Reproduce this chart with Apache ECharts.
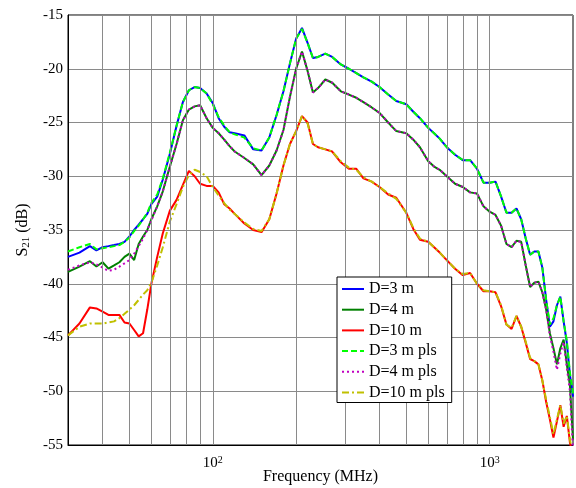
<!DOCTYPE html>
<html>
<head>
<meta charset="utf-8">
<script src="https://cdn.jsdelivr.net/npm/echarts@6/dist/echarts.min.js"></script>
<style>
  html, body { margin: 0; padding: 0; background: #fff; }
  #chart { width: 576px; height: 488px; }
</style>
</head>
<body>
<div id="chart"></div>
<script>
// frequency points (MHz)
const freq = [30,33,36,38,40,42,44,46,48,50,52,54,56,58,60,63,66,70,74,78,82,86,90,95,100,105,110,115,120,130,140,150,160,170,180,190,200,210,220,230,240,255,270,290,310,330,350,375,400,430,460,500,530,560,600,630,660,700,750,800,850,900,950,1000,1050,1100,1150,1200,1250,1300,1350,1400,1450,1500,1550,1600,1650,1700,1750,1800,1850,1900,1950,2000];

// S21 (dB)
const d3 = [-37.5,-37.1,-36.5,-36.9,-36.6,-36.5,-36.4,-36.3,-36.1,-35.6,
  -35.0,-34.5,-34.0,-33.5,-32.6,-31.9,-30.3,-27.9,-25.3,-23.1,
  -22.0,-21.7,-21.8,-22.3,-23.2,-24.6,-25.4,-25.9,-26.0,-26.2,
  -27.5,-27.6,-26.4,-24.3,-22.1,-19.5,-17.2,-16.2,-17.6,-19.0,
  -18.9,-18.6,-18.9,-19.6,-20.0,-20.4,-20.8,-21.2,-21.7,-22.4,
  -23.0,-23.3,-24.0,-24.6,-25.5,-26.0,-26.5,-27.3,-28.0,-28.5,
  -28.5,-29.3,-30.6,-30.6,-30.5,-31.9,-33.4,-33.4,-33.0,-34.0,
  -35.8,-37.3,-37.0,-37.0,-38.5,-41.5,-44.0,-43.5,-42.0,-41.2,
  -43.5,-45.5,-48.5,-50.5];
const d4 = [-38.9,-38.4,-37.9,-38.4,-38.0,-38.6,-38.3,-38.0,-37.5,-37.2,
  -37.8,-36.3,-35.6,-35.0,-34.0,-32.8,-31.4,-29.1,-27.0,-24.8,
  -23.8,-23.5,-23.4,-24.6,-25.5,-26.0,-26.6,-27.2,-27.7,-28.3,
  -28.9,-29.9,-29.0,-27.6,-25.7,-22.6,-20.0,-18.4,-20.2,-22.2,
  -21.8,-21.0,-21.3,-22.1,-22.4,-22.7,-23.1,-23.6,-24.1,-25.0,
  -25.8,-26.0,-26.6,-27.3,-28.6,-29.1,-29.4,-30.0,-30.7,-31.0,
  -31.5,-31.6,-32.8,-33.3,-33.6,-34.6,-36.3,-36.6,-36.0,-36.1,
  -38.3,-40.3,-39.9,-39.8,-40.8,-42.4,-44.6,-46.0,-47.5,-46.0,
  -45.2,-47.5,-49.5,-54.5];
const d10 = [-44.8,-43.7,-42.2,-42.3,-42.6,-42.9,-42.9,-42.9,-43.6,-43.7,
  -44.3,-44.9,-44.6,-42.4,-40.0,-37.5,-35.3,-33.2,-32.2,-30.8,
  -29.5,-30.0,-30.7,-30.9,-30.9,-31.5,-32.6,-33.0,-33.5,-34.4,
  -35.0,-35.2,-34.0,-31.6,-29.0,-27.0,-25.8,-24.4,-25.0,-27.0,
  -27.3,-27.5,-27.7,-28.7,-29.3,-29.3,-30.2,-30.5,-31.0,-31.7,
  -32.0,-33.4,-34.9,-35.9,-36.1,-36.6,-37.1,-37.8,-38.6,-39.2,
  -39.0,-40.0,-40.7,-40.7,-40.8,-42.1,-43.8,-44.2,-43.0,-44.0,
  -45.5,-47.0,-47.2,-47.5,-49.0,-51.0,-52.6,-54.3,-52.8,-51.3,
  -53.3,-52.3,-54.8,-56.0];
const d3pls = [-37.0,-36.6,-36.3,-36.8,-36.7,-36.6,-36.5,-36.4,-36.1,-35.7,
  -35.1,-34.6,-34.0,-33.4,-32.5,-31.7,-30.2,-27.8,-25.3,-23.1,
  -22.0,-21.7,-21.8,-22.3,-23.3,-24.5,-25.3,-25.9,-26.1,-26.4,
  -27.4,-27.6,-26.4,-24.3,-22.1,-19.5,-17.2,-16.3,-17.6,-19.0,
  -18.9,-18.6,-18.9,-19.6,-20.0,-20.4,-20.8,-21.2,-21.7,-22.4,
  -23.0,-23.3,-24.0,-24.6,-25.5,-26.0,-26.5,-27.3,-28.0,-28.5,
  -28.5,-29.3,-30.6,-30.6,-30.5,-31.9,-33.4,-33.4,-33.0,-34.0,
  -35.8,-37.3,-37.0,-37.0,-38.5,-41.5,-43.8,-43.2,-42.0,-41.2,
  -43.5,-45.3,-48.3,-50.2];
const d4pls = [-38.7,-38.3,-38.0,-38.2,-38.5,-38.8,-38.7,-38.4,-38.1,-37.8,
  -37.2,-36.5,-35.8,-35.0,-34.1,-32.8,-31.4,-29.1,-27.0,-24.8,
  -23.8,-23.5,-23.4,-24.6,-25.5,-26.0,-26.6,-27.2,-27.7,-28.3,
  -28.9,-29.9,-29.0,-27.6,-25.7,-22.6,-20.0,-18.4,-20.2,-22.2,
  -21.8,-21.0,-21.3,-22.1,-22.4,-22.7,-23.1,-23.6,-24.1,-25.0,
  -25.8,-26.0,-26.6,-27.3,-28.6,-29.1,-29.4,-30.0,-30.7,-31.0,
  -31.5,-31.6,-32.8,-33.3,-33.6,-34.6,-36.3,-36.6,-36.0,-36.1,
  -38.3,-40.3,-39.9,-39.8,-40.8,-42.4,-44.8,-46.3,-48.0,-46.5,
  -45.4,-47.8,-50.0,-55.5];
const d10pls = [-44.8,-44.0,-43.7,-43.7,-43.7,-43.6,-43.5,-43.2,-42.8,-42.4,
  -42.0,-41.5,-41.0,-40.6,-39.9,-38.3,-36.6,-34.2,-32.6,-31.0,
  -29.9,-29.4,-29.6,-30.0,-31.0,-31.8,-32.5,-33.1,-33.5,-34.3,
  -34.9,-35.1,-34.0,-31.6,-29.0,-27.0,-25.8,-24.4,-25.1,-27.0,
  -27.3,-27.5,-27.7,-28.6,-29.2,-29.4,-30.1,-30.5,-31.0,-31.6,
  -32.1,-33.4,-34.8,-35.8,-36.1,-36.6,-37.1,-37.8,-38.6,-39.1,
  -39.0,-40.0,-40.6,-40.7,-40.8,-42.0,-43.8,-44.1,-43.0,-44.0,
  -45.4,-46.9,-47.2,-47.5,-49.0,-50.8,-52.4,-54.0,-52.6,-51.3,
  -53.0,-52.3,-54.5,-56.0];

// vertical grid positions (MHz)
const vGrid = [40,50,60,70,80,90,100,200,300,400,500,600,700,800,900,1000];
const names = ["D=3 m","D=4 m","D=10 m","D=3 m pls","D=4 m pls","D=10 m pls"];

const font = "Liberation Serif";
const pairs = (vals) => freq.map((f, i) => [f, vals[i]]);

const mkLine = (name, vals, color, type) => ({
  name: name,
  type: "line",
  data: pairs(vals),
  showSymbol: false,
  symbol: "none",
  z: 3,
  lineStyle: { color: color, width: 2, type: type },
  itemStyle: { color: color },
});

const chart = echarts.init(document.getElementById("chart"));
const option = {
  animation: false,
  backgroundColor: "#fff",
  textStyle: { fontFamily: font },
  grid: {
    left: 68, right: 3, top: 15, bottom: 43,
    outerBoundsMode: "none",
    containLabel: false,
    show: true, borderColor: "#000", borderWidth: 1,
  },
  legend: {
    data: names,
    orient: "vertical",
    left: 337, top: 277,
    backgroundColor: "#fff",
    borderColor: "#000",
    borderWidth: 1,
    borderRadius: 0,
    padding: [4, 7, 2, 4],
    itemWidth: 22,
    itemHeight: 16,
    itemGap: 4.7,
    itemStyle: { opacity: 0 },
    textStyle: { fontFamily: font, fontSize: 16, lineHeight: 16, color: "#000" },
    z: 10,
  },
  xAxis: {
    type: "log",
    logBase: 10,
    min: 30,
    max: 2000,
    name: "Frequency (MHz)",
    nameLocation: "middle",
    nameGap: 24,
    nameMoveOverlap: false,
    nameTextStyle: { fontFamily: font, fontSize: 16, color: "#000" },
    axisLine: { show: true, lineStyle: { color: "#000" } },
    axisTick: { show: false },
    splitLine: { show: false },
    axisLabel: {
      color: "#000",
      margin: 10,
      formatter: (v) => {
        const e = Math.log10(v);
        if (Math.abs(e - Math.round(e)) < 1e-6) return "10{sup|" + Math.round(e) + "}";
        return "";
      },
      rich: {
        sup: { fontFamily: font, fontSize: 10, color: "#000", verticalAlign: "top", padding: [0, 0, 7, 0] },
      },
      fontFamily: font,
      fontSize: 15,
    },
  },
  yAxis: {
    type: "value",
    min: -55,
    max: -15,
    interval: 5,
    name: "S{sub|21} (dB)",
    nameLocation: "middle",
    nameGap: 36,
    nameMoveOverlap: false,
    nameRotate: 90,
    nameTextStyle: {
      fontFamily: font, fontSize: 16, color: "#000",
      rich: { sub: { fontFamily: font, fontSize: 11, color: "#000", verticalAlign: "bottom", padding: [7, 0, 0, 0] } },
    },
    axisLine: { show: true, lineStyle: { color: "#000" } },
    axisTick: { show: false },
    axisLabel: { color: "#000", fontFamily: font, fontSize: 15, margin: 5 },
    splitLine: { show: true, lineStyle: { color: "#8a8a8a", width: 1 } },
  },
  series: [
    {
      name: "grid",
      type: "line",
      data: [],
      z: 1,
      silent: true,
      markLine: {
        silent: true,
        symbol: "none",
        label: { show: false },
        lineStyle: { color: "#8a8a8a", width: 1, type: "solid" },
        data: vGrid.map((f) => ({ xAxis: f })),
      },
    },
    mkLine(names[0], d3, "#0000ff", "solid"),
    mkLine(names[1], d4, "#008000", "solid"),
    mkLine(names[2], d10, "#ff0000", "solid"),
    mkLine(names[3], d3pls, "#00ff00", [6, 3]),
    mkLine(names[4], d4pls, "#c000c0", [2, 3]),
    mkLine(names[5], d10pls, "#c0c000", [7, 3, 2, 3]),
  ],
};
chart.setOption(option);
</script>
</body>
</html>
